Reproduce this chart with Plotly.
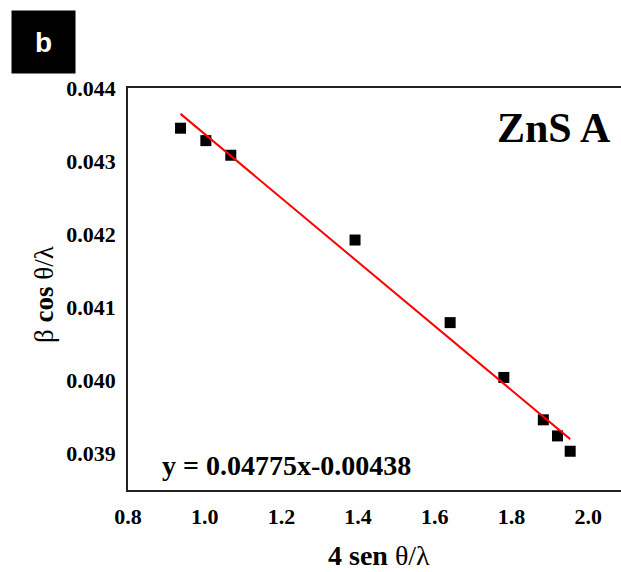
import plotly.graph_objects as go

# Data
x_vals = [0.937, 1.003, 1.068, 1.392, 1.640, 1.780, 1.883, 1.920, 1.953]
y_vals = [0.04345, 0.04328, 0.04308, 0.04192, 0.04079, 0.04004, 0.03946, 0.03924, 0.03903]

# Linear fit (as printed in the chart, applied as intercept + slope*x)
fit_intercept = 0.04775
fit_slope = -0.00438
fit_x = [min(x_vals), max(x_vals)]
fit_y = [fit_intercept + fit_slope * v for v in fit_x]

x_ticks = [0.8, 1.0, 1.2, 1.4, 1.6, 1.8, 2.0]
y_ticks = [0.039, 0.040, 0.041, 0.042, 0.043, 0.044]

W, H = 621, 572
ML, MR, MT, MB = 128, 0, 88, 82
PW = W - ML - MR
PH = H - MT - MB

def px(xp):
    return (xp - ML) / PW

def py(yp):
    return (H - MB - yp) / PH

serif = "Liberation Serif, Times New Roman, serif"

fig = go.Figure()
fig.add_trace(go.Scatter(
    x=x_vals, y=y_vals, mode="markers",
    marker=dict(symbol="square", size=11, color="black", line=dict(width=0)),
    showlegend=False,
))
fig.add_trace(go.Scatter(
    x=fit_x, y=fit_y, mode="lines",
    line=dict(color="#ff0000", width=2),
    showlegend=False,
))

fig.update_layout(
    width=W, height=H,
    margin=dict(l=ML, r=MR, t=MT, b=MB, pad=0),
    paper_bgcolor="white", plot_bgcolor="white",
    font=dict(family=serif, color="black"),
    xaxis=dict(
        range=[0.8, 0.8 + PW / 383.5],
        tickvals=x_ticks,
        ticktext=[f"<b>{v:.1f}</b>" for v in x_ticks],
        ticks="", showgrid=False, zeroline=False,
        showline=True, mirror=True, linecolor="#222", linewidth=1.5,
        tickfont=dict(size=22, family=serif, color="black"),
        ticklabelstandoff=6,
    ),
    yaxis=dict(
        range=[0.0385, 0.044],
        tickvals=y_ticks,
        ticktext=[f"<b>{v:.3f}</b>" for v in y_ticks],
        ticks="", showgrid=False, zeroline=False,
        showline=True, mirror=False, linecolor="#222", linewidth=1.5,
        tickfont=dict(size=22, family=serif, color="black"),
        ticklabelstandoff=6,
    ),
    annotations=[
        dict(text="<b>4 sen</b> θ/λ", x=px(378.5), y=py(555), xref="paper", yref="paper",
             showarrow=False, xanchor="center", yanchor="middle",
             font=dict(size=28, family=serif, color="black")),
        dict(text="β <b>cos</b> θ/λ", x=px(44), y=py(295), xref="paper", yref="paper",
             showarrow=False, xanchor="center", yanchor="middle", textangle=-90,
             font=dict(size=27, family=serif, color="black")),
        dict(text="<b>ZnS A</b>", x=px(554), y=py(128), xref="paper", yref="paper",
             showarrow=False, xanchor="center", yanchor="middle",
             font=dict(size=42, family=serif, color="black")),
        dict(text="<b>y = 0.04775x-0.00438</b>", x=px(286), y=py(465), xref="paper", yref="paper",
             showarrow=False, xanchor="center", yanchor="middle",
             font=dict(size=28, family=serif, color="black")),
        dict(text="<b>b</b>", x=px(43.5), y=py(42), xref="paper", yref="paper",
             showarrow=False, xanchor="center", yanchor="middle",
             width=63, height=62, bgcolor="black", borderpad=0,
             align="center", valign="middle",
             font=dict(size=28, family="Liberation Sans, Arial, sans-serif", color="white")),
    ],
)

fig.write_html("out.html")
